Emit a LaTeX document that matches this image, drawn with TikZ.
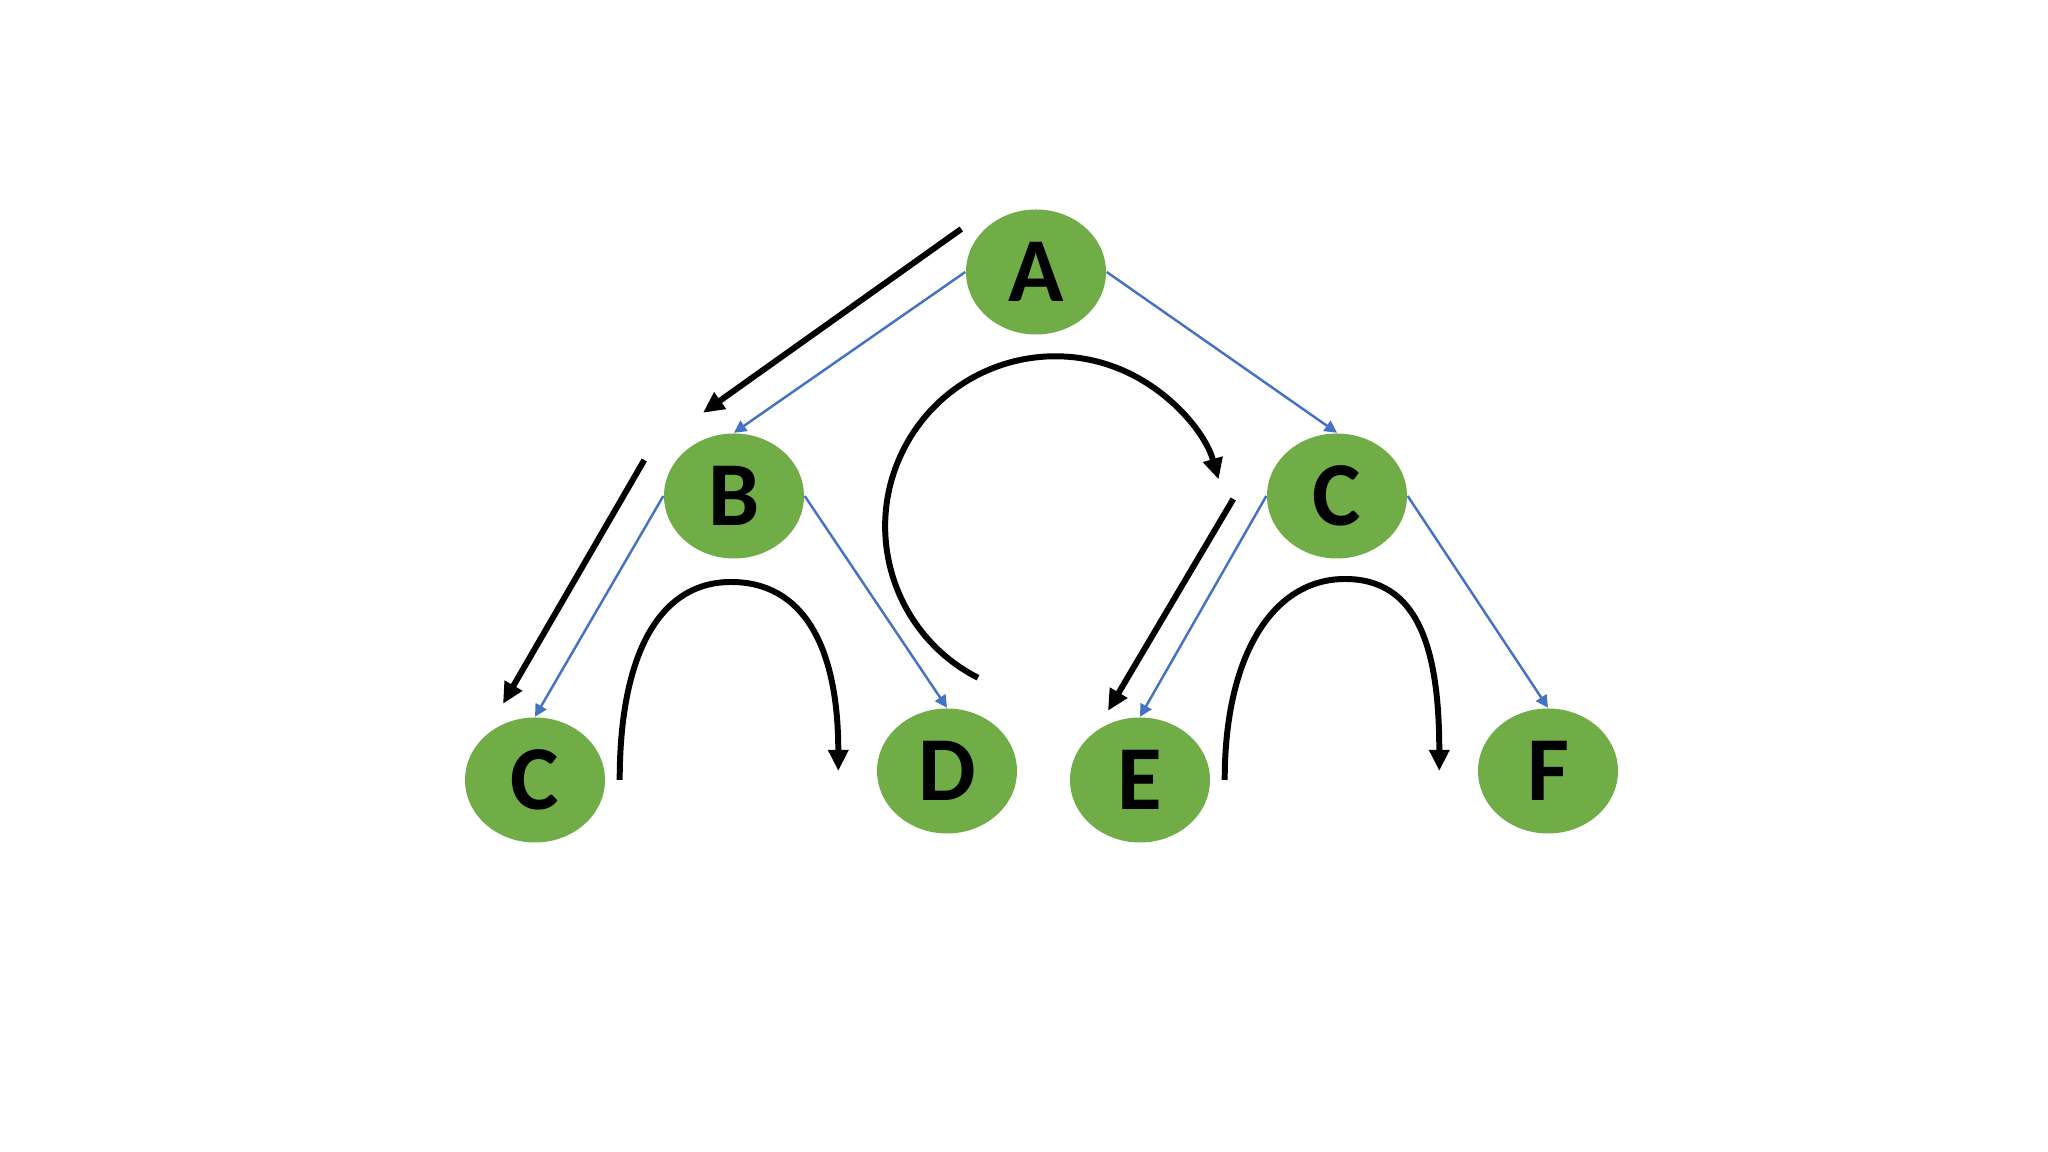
\documentclass[tikz,border=0pt]{standalone}
\usepackage{xcolor}
\usepackage{fontspec}
\setmainfont{Carlito}
\usepackage{tikz}
\usetikzlibrary{shapes,arrows.meta,positioning,calc}

\definecolor{nodegreen}{HTML}{70AD47}
\definecolor{edgeblue}{HTML}{4472C4}

\begin{document}
\begin{tikzpicture}[node distance=1.5cm, auto,
    vertex/.style={ellipse, fill=nodegreen, minimum width=1.40cm, minimum height=1.25cm, inner sep=0pt, font=\fontsize{26}{30}\selectfont\bfseries},
    edge/.style={draw, -{Triangle[length=3.5pt,width=3.5pt]}, edgeblue, line width=0.7pt},
    walk/.style={draw, -{Triangle[length=6pt,width=5.5pt]}, black, line width=1.7pt}]
    \useasboundingbox (0,0) rectangle (20.48,11.52);

    % Tree nodes
    \node [vertex] (a) at (10.36,8.80) {A};
    \node [vertex, below of=a, xshift=-3.02cm, yshift=-0.74cm] (b) {B};
    \node [vertex, below of=a, xshift=3.01cm, yshift=-0.74cm] (c) {C};
    \node [vertex, below of=b, xshift=-1.99cm, yshift=-1.34cm] (cl) {C};
    \node [vertex, below of=b, xshift=2.13cm, yshift=-1.25cm] (d) {D};
    \node [vertex, below of=c, xshift=-1.97cm, yshift=-1.34cm] (e) {E};
    \node [vertex, below of=c, xshift=2.11cm, yshift=-1.25cm] (f) {F};

    % Tree edges
    \draw [edge] (a.west) -- (b.north);
    \draw [edge] (a.east) -- (c.north);
    \draw [edge] (b.west) -- (cl.north);
    \draw [edge] (b.east) -- (d.north);
    \draw [edge] (c.west) -- (e.north);
    \draw [edge] (c.east) -- (f.north);

    % Traversal arrows
    \draw [walk] ([shift={(-0.04,0.43)}]a.west) -- ([shift={(-0.31,0.20)}]b.north);
    \draw [walk] ([shift={(-0.19,0.36)}]b.west) -- ([shift={(-0.32,0.13)}]cl.north);
    \draw [walk] ([shift={(-0.33,-0.03)}]c.west) -- ([shift={(-0.32,0.06)}]e.north);

    \coordinate (bd_top) at (7.31,5.70);
    \coordinate (ef_top) at (13.45,5.73);
    \draw [walk] ([xshift=0.14cm]cl.east) .. controls +(0,1.25) and +(-0.72,0) .. (bd_top)
        .. controls +(0.72,0) and +(0,1.25) .. ([xshift=-0.38cm]d.west);
    \draw [walk] ([xshift=0.14cm]e.east) .. controls +(0,1.25) and +(-0.72,0) .. (ef_top)
        .. controls +(0.72,0) and +(0,1.25) .. ([xshift=-0.38cm]f.west);
    \draw [walk] ([shift={(0.31,0.30)}]d.north) arc[start angle=243, end angle=16, radius=1.7cm];
\end{tikzpicture}
\end{document}
